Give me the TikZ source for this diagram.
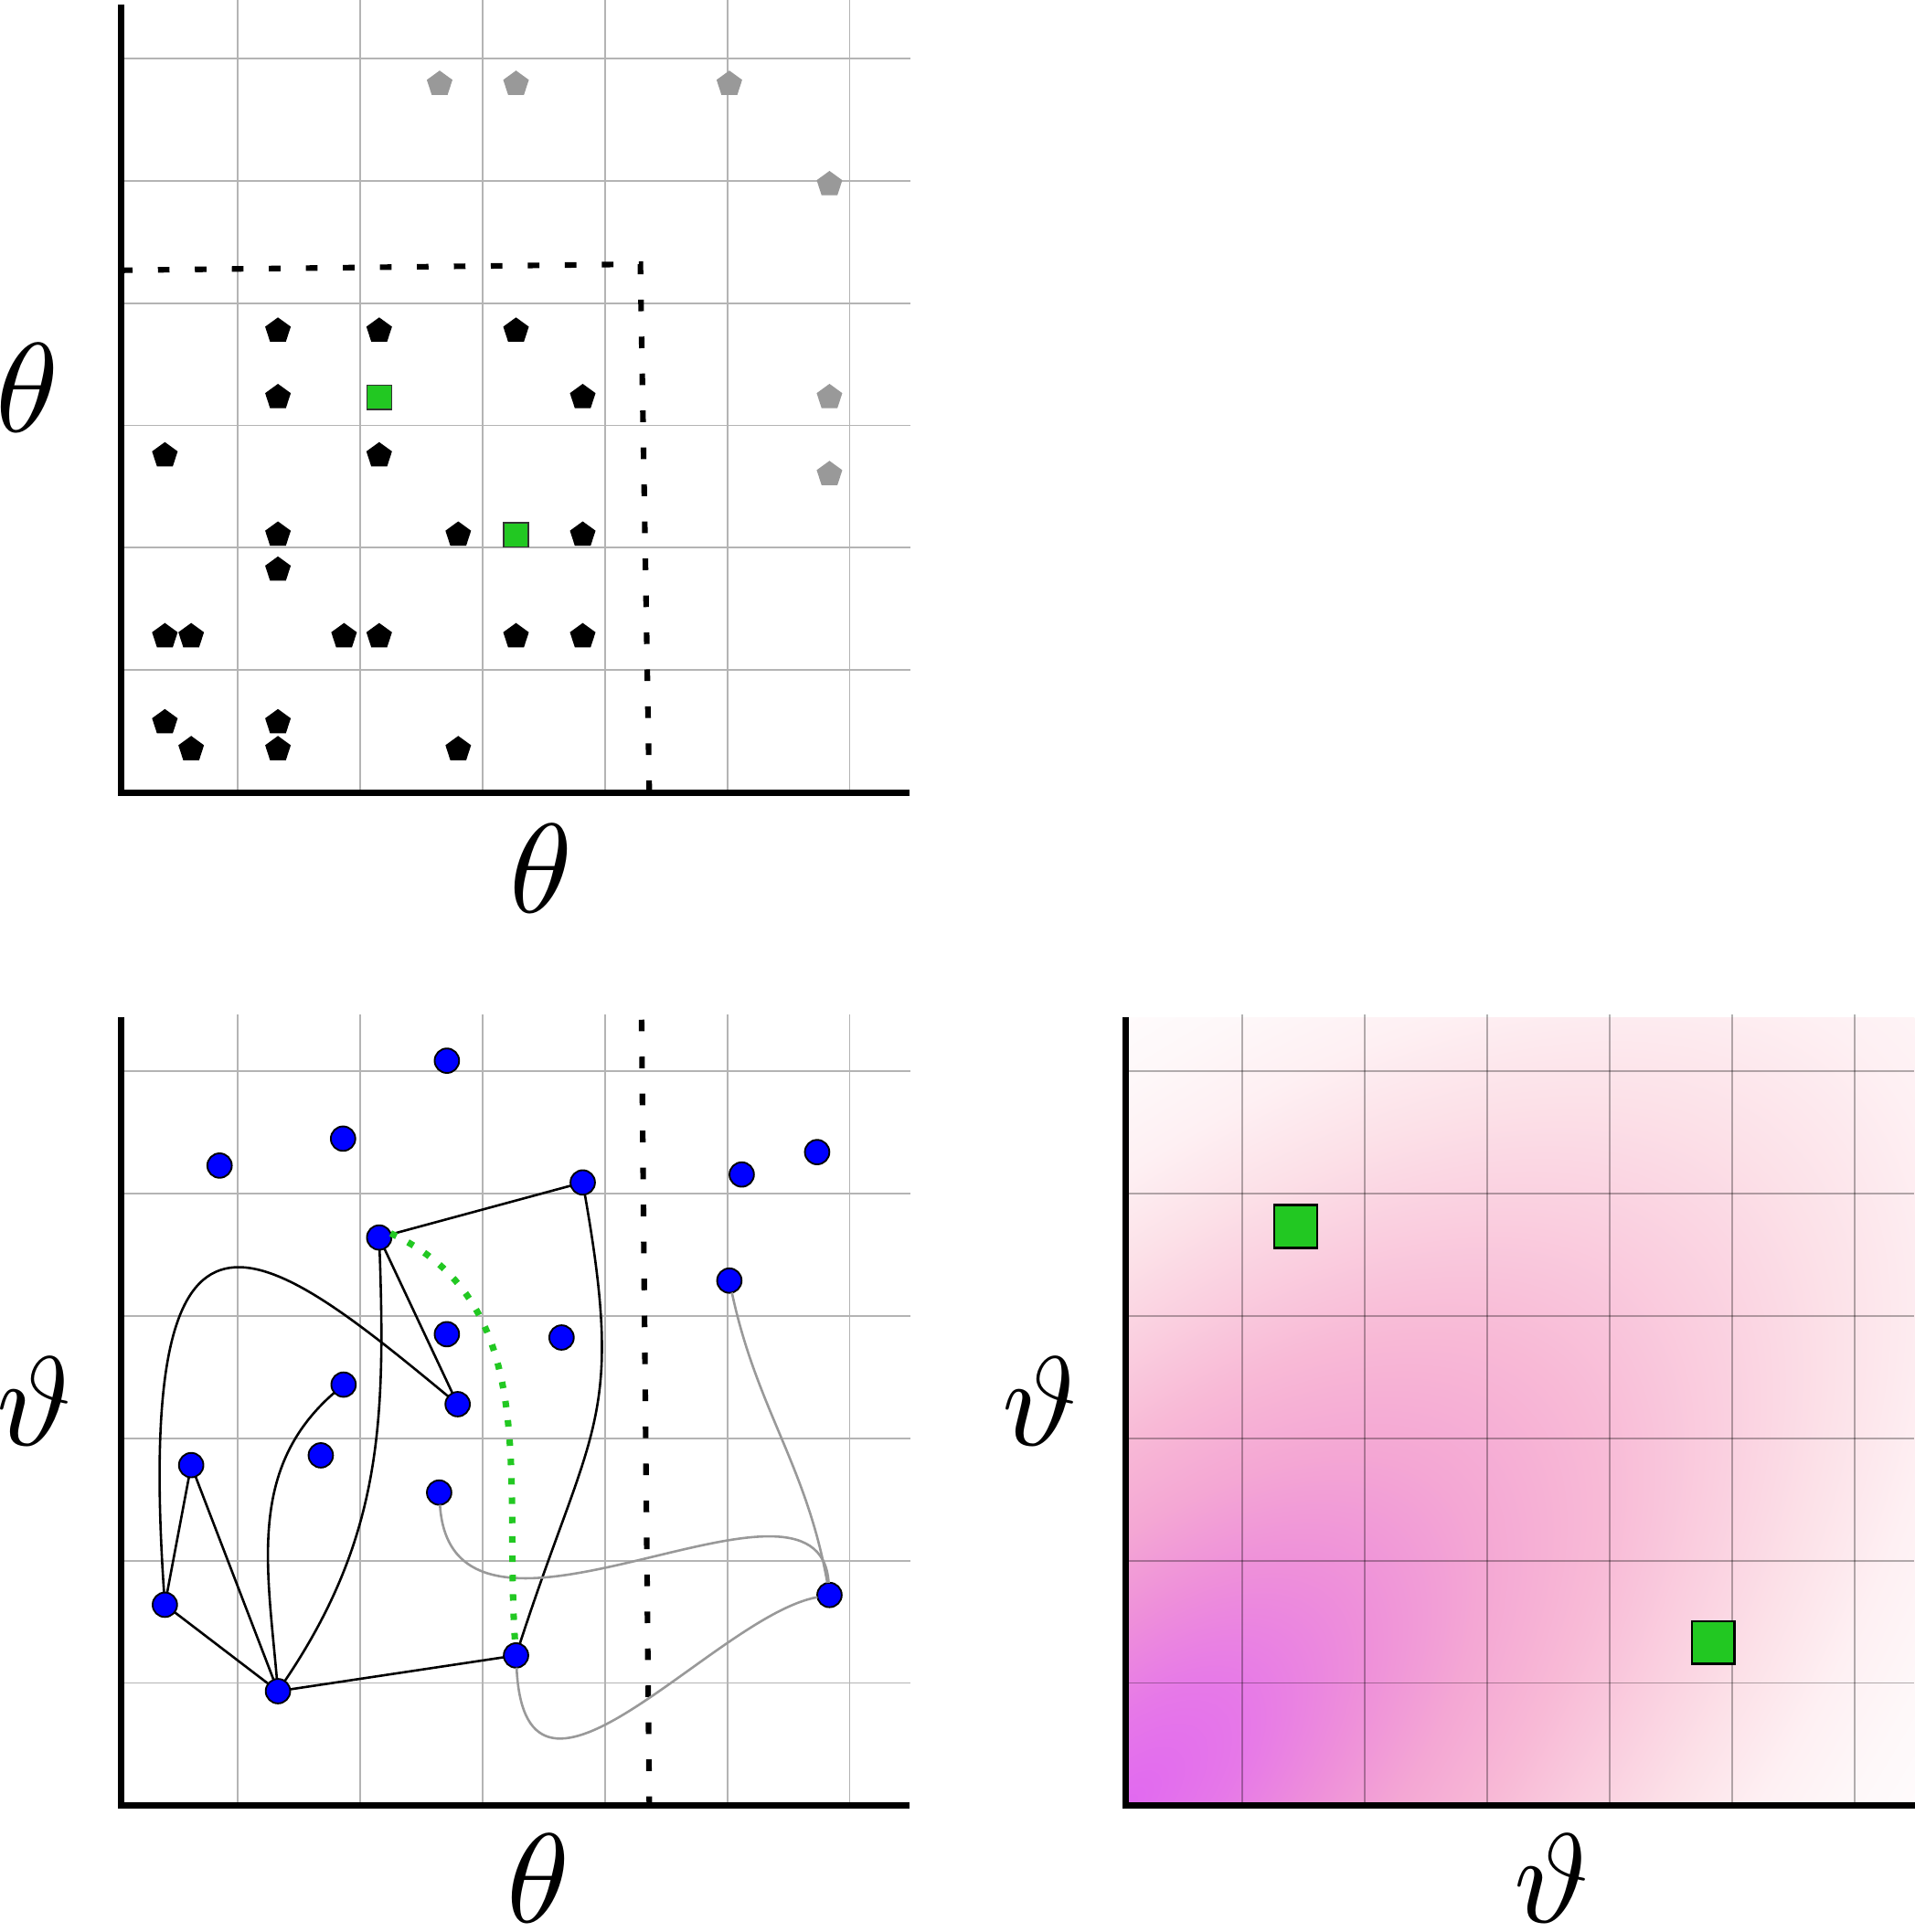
\documentclass[tikz,border=0pt]{standalone}
\usepackage{xcolor}
\usepackage{tikz}
\usetikzlibrary{shapes.geometric,positioning}

\definecolor{gridgray}{RGB}{180,180,180}
\definecolor{dropgray}{RGB}{153,153,153}
\definecolor{seedgreen}{RGB}{34,200,34}
\definecolor{dens0}{RGB}{225,105,240}
\definecolor{dens1}{RGB}{230,120,232}
\definecolor{dens2}{RGB}{238,143,218}
\definecolor{dens3}{RGB}{244,167,212}
\definecolor{dens4}{RGB}{248,185,214}
\definecolor{dens5}{RGB}{250,206,223}
\definecolor{dens6}{RGB}{252,225,232}
\definecolor{dens7}{RGB}{254,240,243}
\definecolor{dens8}{RGB}{254,248,249}
\definecolor{dens9}{RGB}{255,252,253}
\pgfdeclareradialshading{density}{\pgfpointorigin}{%
  color(0bp)=(dens0); color(2.5bp)=(dens1); color(5bp)=(dens2);
  color(7.5bp)=(dens3); color(10bp)=(dens4); color(12.5bp)=(dens5);
  color(15bp)=(dens6); color(17.5bp)=(dens7); color(20bp)=(dens8);
  color(22.5bp)=(dens9); color(25bp)=(white); color(50bp)=(white)}

\begin{document}
\begin{tikzpicture}[
  every node/.style={inner sep=0pt,outer sep=0pt},
  gridline/.style={gridgray,line width=0.4pt},
  fadegrid/.style={black,opacity=0.3,line width=0.4pt},
  axisline/.style={line width=1.4pt},
  cutline/.style={line width=1.3pt,dash pattern=on 2.7pt off 5.9pt},
  keepmark/.style={regular polygon,regular polygon sides=5,fill=black,minimum size=0.22cm},
  dropmark/.style={keepmark,fill=dropgray},
  seedmark/.style={rectangle,draw=black!80,line width=0.3pt,fill=seedgreen,minimum size=0.2cm},
  seedbox/.style={rectangle,draw=black,line width=0.5pt,fill=seedgreen,minimum size=0.35cm},
  sampledot/.style={circle,draw=black,line width=0.4pt,fill=blue,minimum size=0.2cm},
  linkline/.style={line width=0.55pt},
  faintline/.style={dropgray,line width=0.55pt},
  routeline/.style={seedgreen,line width=1.5pt,dash pattern=on 1.5pt off 3pt},
  axlabel/.style={scale=2.95},
]
\useasboundingbox (0,0) rectangle (15.639,15.788);

% top left: marks in the theta plane
\begin{scope}[shift={(0.942,9.311)}]
  \foreach \g in {1,...,6} {
    \draw[gridline] (\g,0) -- (\g,6.48);
    \draw[gridline] (0.046,\g) -- (6.5,\g);
  }
  \draw[axisline] (0.046,6.44) -- (0.046,0) -- (6.49,0);
  \draw[cutline] (0.046,4.268) -- (4.29,4.318) -- (4.363,0);
  % inside the cut
  \foreach \x/\y [count=\i] in {1.329/3.773, 2.156/3.773, 3.274/3.773,
      1.329/3.230, 3.819/3.230, 0.405/2.754, 2.156/2.754,
      1.329/2.106, 2.802/2.106, 3.819/2.106, 1.329/1.820,
      0.405/1.276, 0.620/1.276, 1.869/1.276, 2.156/1.276, 3.274/1.276, 3.819/1.276,
      0.405/0.573, 1.329/0.573, 0.620/0.353, 1.329/0.353, 2.802/0.353}
    \node[keepmark] (k\i) at (\x,\y) {};
  % outside the cut
  \foreach \x/\y [count=\i] in {2.65/5.79, 3.274/5.79, 5.017/5.79,
      5.835/4.97, 5.835/3.230, 5.835/2.601}
    \node[dropmark] (r\i) at (\x,\y) {};
  \node[seedmark] (s1) at (2.156,3.230) {};
  \node[seedmark] (s2) at (3.274,2.106) {};
  \node[axlabel] (tx) at (3.476,-0.62) {$\theta$};
  \node[axlabel] (ty) at (-0.718,3.31) {$\theta$};
\end{scope}

% bottom left: graph of samples
\begin{scope}[shift={(0.942,1.035)}]
  \foreach \g in {1,...,6} {
    \draw[gridline] (\g,0) -- (\g,6.46);
    \draw[gridline] (0.046,\g) -- (6.5,\g);
  }
  \draw[axisline] (0.046,6.44) -- (0.046,0) -- (6.49,0);
  \draw[cutline] (4.30,6.42) -- (4.363,0);
  \foreach \x/\y [count=\i] in {2.709/6.085, 1.861/5.448, 0.852/5.228,
      3.819/5.09, 5.118/5.155, 5.734/5.338, 2.156/4.64, 5.017/4.288,
      2.709/3.85, 3.646/3.823, 1.865/3.438, 2.797/3.278, 0.620/2.780,
      1.679/2.860, 2.646/2.556, 0.405/1.639, 5.835/1.719, 3.274/1.225,
      1.329/0.933}
    \node[sampledot] (v\i) at (\x,\y) {};
  % links
  \draw[linkline] (v7) -- (v4);
  \draw[linkline] (v7) -- (v12);
  \draw[linkline] (v7) to[out=-88,in=56] (v19);
  \draw[linkline] (v4) to[out=-80,in=72,looseness=1.3] (v18);
  \draw[linkline] (v19) -- (v18);
  \draw[linkline] (v19) -- (v16);
  \draw[linkline] (v16) -- (v13);
  \draw[linkline] (v13) -- (v19);
  \draw[linkline] (v19) to[out=95,in=-139] (v11);
  \draw[linkline] (v16) .. controls (0.15,5.4) and (1.2,4.6) .. (v12);
  % faint links
  \draw[faintline] (v15) .. controls (2.75,0.9) and (5.75,3.0) .. (v17);
  \draw[faintline] (v18) .. controls (3.35,-0.4) and (4.9,1.55) .. (v17);
  \draw[faintline] (v8) to[out=-78,in=100] (v17);
  % green route
  \draw[routeline] (v7.20) to[out=-25,in=94] (v18);
  \node[axlabel] (bx) at (3.457,-0.60) {$\theta$};
  \node[axlabel] (by) at (-0.66,3.30) {$\vartheta$};
\end{scope}

% bottom right: density in the vartheta plane
\begin{scope}[shift={(9.152,1.035)}]
  \begin{scope}
    \clip (0.046,0) rectangle (6.49,6.44);
    \begin{scope}[shift={(0.046,0)},rotate=45,xscale=13.958,yscale=6.543]
      \pgftext{\pgfuseshading{density}}
    \end{scope}
  \end{scope}
  \foreach \g in {1,...,6} {
    \draw[fadegrid] (\g,0) -- (\g,6.46);
    \draw[fadegrid] (0.046,\g) -- (6.49,\g);
  }
  \draw[axisline] (0.046,6.44) -- (0.046,0) -- (6.6,0);
  \node[seedbox] (q1) at (1.435,4.73) {};
  \node[seedbox] (q2) at (4.845,1.331) {};
  \node[axlabel] (dx) at (3.526,-0.60) {$\vartheta$};
  \node[axlabel] (dy) at (-0.656,3.30) {$\vartheta$};
\end{scope}
\end{tikzpicture}
\end{document}
